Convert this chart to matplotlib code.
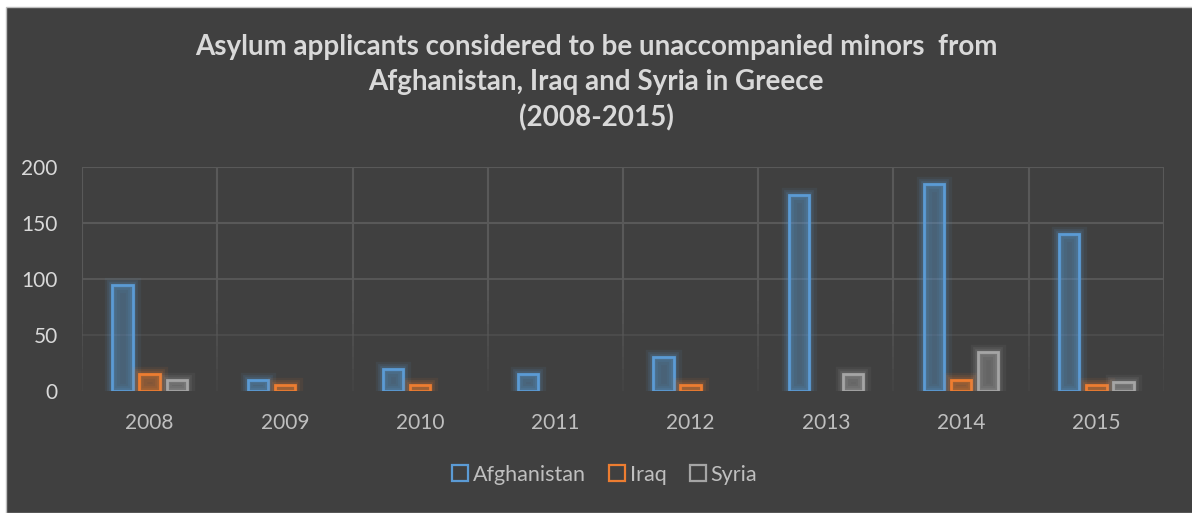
import numpy as np
import matplotlib.pyplot as plt
import matplotlib.patheffects as pe
from matplotlib.patches import Rectangle
from matplotlib.lines import Line2D

# Data
years = ['2008', '2009', '2010', '2011', '2012', '2013', '2014', '2015']
afghanistan = [95, 10, 20, 15, 30, 175, 185, 140]
iraq = [15, 5, 5, 0, 5, 0, 10, 5]
syria = [10, 0, 0, 0, 0, 15, 35, 8]

series = [('Afghanistan', afghanistan, '#5b9bd5'),
          ('Iraq', iraq, '#ed7d31'),
          ('Syria', syria, '#a5a5a5')]

bg = '#404040'
txt = '#d9d9d9'
grid_c = '#595959'

plt.rcParams['font.family'] = ['Lato', 'DejaVu Sans']

fig = plt.figure(figsize=(11.92, 5.13), dpi=100, facecolor='white')
fig.patches.append(Rectangle((6 / 1192, 0), 1, 1 - 7 / 513, transform=fig.transFigure,
                             facecolor=bg, edgecolor='#bfbfbf', linewidth=1, zorder=0))

ax = fig.add_axes([0.0688, 0.2378, 0.9077, 0.4367])
ax.set_zorder(2)
ax.patch.set_alpha(0)
for s in ax.spines.values():
    s.set_visible(False)

x = np.arange(len(years))
w = 0.15
offsets = [-0.2, 0.0, 0.2]

# gridlines: brighter at top, fading toward the bottom
for yv, a in [(200, 1.0), (150, 1.0), (100, 0.9), (50, 0.45)]:
    ax.axhline(yv, color=grid_c, linewidth=1.5, alpha=a, zorder=1)
xb = np.arange(len(years) + 1) - 0.5
for xv in xb:
    ax.plot([xv, xv], [100, 200], color=grid_c, linewidth=1.5, zorder=1)
    steps = np.linspace(0, 100, 11)
    for i in range(10):
        ax.plot([xv, xv], [steps[i], steps[i + 1]], color=grid_c, linewidth=1.5,
                alpha=0.1 + 0.9 * (i + 1) / 10, zorder=1, solid_capstyle='butt')

for (name, vals, col), off in zip(series, offsets):
    bars = ax.bar(x + off, vals, width=w, facecolor=col + '1a', edgecolor=col,
                  linewidth=2, zorder=3)
    for b, v in zip(bars, vals):
        if v == 0:
            b.set_visible(False)
        b.set_path_effects([pe.Stroke(linewidth=11, foreground=col, alpha=0.08),
                            pe.Stroke(linewidth=7, foreground=col, alpha=0.12),
                            pe.Stroke(linewidth=4, foreground=col, alpha=0.15),
                            pe.Normal()])

ax.set_xlim(-0.5, len(years) - 0.5)
ax.set_ylim(0, 200)
ax.set_yticks([0, 50, 100, 150, 200])
ax.set_xticks(x)
ax.set_xticklabels(years)
ax.tick_params(axis='both', length=0, colors='#bfbfbf', labelsize=15)
ax.tick_params(axis='x', pad=16)
ax.tick_params(axis='y', pad=17.5)
for lab in ax.get_yticklabels():
    lab.set_color(txt)

fig.text(0.5, 0.838, 'Asylum applicants considered to be unaccompanied minors  from\n'
         'Afghanistan, Iraq and Syria in Greece\n(2008-2015)',
         ha='center', va='center', color=txt, fontsize=20, fontweight='bold',
         linespacing=1.42)

handles = [Line2D([], [], marker='s', linestyle='none', markersize=12,
                  markerfacecolor='none', markeredgecolor=col, markeredgewidth=1.6)
           for _, _, col in series]
leg = fig.legend(handles, [s[0] for s in series], loc='center', bbox_to_anchor=(0.505, 0.075),
                 ncol=3, frameon=False, fontsize=15.5, handletextpad=0.0,
                 columnspacing=0.85, handlelength=1.2)
for t in leg.get_texts():
    t.set_color('#bfbfbf')

fig.savefig('out.png', dpi=100, facecolor='white')
